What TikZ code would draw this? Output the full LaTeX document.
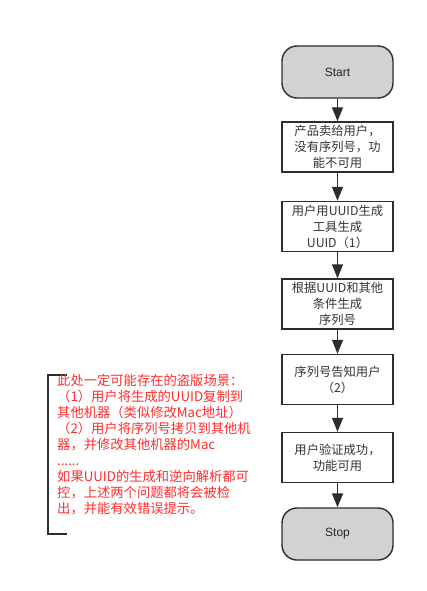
\documentclass[tikz,border=0pt]{standalone}
\usepackage{fontspec}
\setmainfont{Liberation Sans}
\newfontfamily\cjk{Noto Sans CJK SC}
\usetikzlibrary{arrows.meta}
\definecolor{warn}{RGB}{255,45,45}
\definecolor{edge}{RGB}{45,45,45}
\definecolor{termfill}{RGB}{210,210,210}
\begin{document}
\begin{tikzpicture}[x=1pt,y=-1pt,
  flowbox/.style={draw=edge, line width=1.4pt, minimum width=111pt, minimum height=50pt,
    inner sep=2pt, align=center, text width=105pt, text=black!80,
    font=\cjk\fontsize{12.3}{16}\selectfont},
  terminal/.style={draw=edge, line width=1.4pt, fill=termfill, rounded corners=15pt,
    minimum width=111pt, minimum height=52pt, text=black!85, font=\fontsize{12}{14}\selectfont},
  flow/.style={-{Triangle[length=14pt,width=11pt]}, line width=1.4pt, draw=edge},
  bracket/.style={draw=edge, line width=1.6pt},
  note/.style={anchor=north west, inner sep=0pt, align=left, text=warn,
    font=\cjk\fontsize{13.3}{16}\selectfont}
]
\useasboundingbox (0,0) rectangle (426,591);

\node[terminal] (start) at (337.5,72) {Start};
\node[flowbox] (b1) at (337.5,147) {产品卖给用户，\\没有序列号，功\\能不可用};
\node[flowbox] (b2) at (337.5,226.5) {用户用UUID生成\\工具生成\\UUID（1）};
\node[flowbox] (b3) at (337.5,304) {根据UUID和其他\\条件生成\\序列号};
\node[flowbox] (b4) at (337.5,379.5) {序列号告知用户\\（2）};
\node[flowbox] (b5) at (337.5,457.5) {用户验证成功，\\功能可用};
\node[terminal] (stop) at (337.5,534) {Stop};

\draw[flow] (start) -- (b1);
\draw[flow] (b1) -- (b2);
\draw[flow] (b2) -- (b3);
\draw[flow] (b3) -- (b4);
\draw[flow] (b4) -- (b5);
\draw[flow] (b5) -- (stop);

\draw[bracket] (67,375) -- (48,375) -- (48,534) -- (67,534);
\node[note] (txt) at (57,374) {此处一定可能存在的盗版场景：\\（1）用户将生成的UUID复制到\\其他机器（类似修改Mac地址）\\（2）用户将序列号拷贝到其他机\\器，并修改其他机器的Mac\\......\\如果UUID的生成和逆向解析都可\\控，上述两个问题都将会被检\\出，并能有效错误提示。};
\end{tikzpicture}
\end{document}
